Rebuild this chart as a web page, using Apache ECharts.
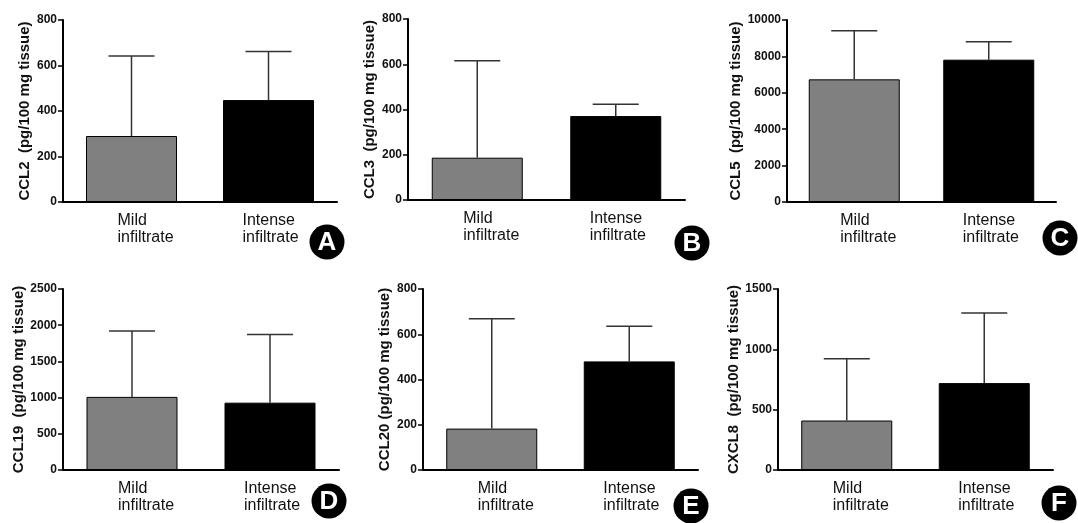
<!DOCTYPE html>
<html>
<head>
<meta charset="utf-8">
<script src="https://cdn.jsdelivr.net/npm/echarts@6/dist/echarts.min.js"></script>
<style>
  html, body { margin: 0; padding: 0; background: #fff; }
  #main { width: 1078px; height: 523px; }
</style>
</head>
<body>
<div id="main"></div>
<script>
// chemokine per panel, order A..F
var chemokines = ["CCL2", "CCL3", "CCL5", "CCL19", "CCL20", "CXCL8"];
var axisNames = [
  "CCL2  (pg/100 mg tissue)",
  "CCL3  (pg/100 mg tissue)",
  "CCL5  (pg/100 mg tissue)",
  "CCL19  (pg/100 mg tissue)",
  "CCL20 (pg/100 mg tissue)",
  "CXCL8  (pg/100 mg tissue)"
];
var panelLetters = ["A", "B", "C", "D", "E", "F"];
var categories = ["Mild infiltrate", "Intense infiltrate"];

var mildMean = [290, 187, 6740, 1010, 183, 410];
var intenseMean = [448, 371, 7820, 930, 480, 720];
var mildSD = [352, 429, 2670, 910, 485, 512];
var intenseSD = [213, 52, 990, 940, 155, 582];

var yMax = [800, 800, 10000, 2500, 800, 1500];
var yStep = [200, 200, 2000, 500, 200, 500];

// layout of each panel (pixels)
var grids = [
  { left: 63, top: 20, width: 274, height: 182 },
  { left: 408, top: 19, width: 277, height: 181 },
  { left: 787, top: 20, width: 269, height: 182 },
  { left: 63, top: 289, width: 276, height: 181 },
  { left: 423, top: 289, width: 275, height: 181 },
  { left: 778, top: 289, width: 275, height: 181 }
];
var letterPos = [[327, 242], [692, 243], [1060, 238], [329, 501], [691, 506], [1059, 503]];

var font = "Liberation Sans, Arial, sans-serif";

var myChart = echarts.init(document.getElementById("main"));

var xAxes = [], yAxes = [], series = [], graphics = [];

chemokines.forEach(function (name, i) {
  xAxes.push({
    type: "category",
    gridIndex: i,
    data: categories,
    axisLine: { lineStyle: { color: "#000", width: 2 } },
    axisTick: { alignWithLabel: true, length: 5, lineStyle: { color: "#000", width: 1.5 } },
    axisLabel: {
      margin: 10,
      fontFamily: font,
      fontSize: 16,
      color: "#111",
      lineHeight: 17,
      formatter: function (v) {
        var parts = v.split(" ");
        var key = parts[0] === "Mild" ? "m" : "n";
        return "{" + key + "|" + parts[0] + "}\n{" + key + "|" + parts[1] + "}";
      },
      rich: {
        m: { fontFamily: font, fontSize: 16, lineHeight: 17, color: "#111", width: 56, align: "left", padding: [0, 0, 0, 28] },
        n: { fontFamily: font, fontSize: 16, lineHeight: 17, color: "#111", width: 56, align: "left", padding: [0, 0, 0, 4] }
      }
    }
  });
  yAxes.push({
    type: "value",
    gridIndex: i,
    min: 0,
    max: yMax[i],
    interval: yStep[i],
    name: axisNames[i],
    nameLocation: "middle",
    nameGap: 31,
    nameTextStyle: { fontFamily: font, fontSize: 15, fontWeight: "bold", color: "#111" },
    splitLine: { show: false },
    axisLine: { show: true, lineStyle: { color: "#000", width: 2 } },
    axisTick: { show: true, length: 5, lineStyle: { color: "#000", width: 1.5 } },
    axisLabel: {
      margin: 6, fontFamily: font, fontSize: 12, fontWeight: "bold", color: "#111",
      formatter: function (v) { return String(v); }
    }
  });
  series.push({
    type: "bar",
    xAxisIndex: i,
    yAxisIndex: i,
    barWidth: 91,
    data: [
      { value: mildMean[i], itemStyle: { color: "#808080" } },
      { value: intenseMean[i], itemStyle: { color: "#000" } }
    ],
    itemStyle: { borderColor: "#000", borderWidth: 1 },
    silent: true
  });
  series.push({
    type: "custom",
    xAxisIndex: i,
    yAxisIndex: i,
    z: 5,
    data: [
      [0, mildMean[i], mildMean[i] + mildSD[i]],
      [1, intenseMean[i], intenseMean[i] + intenseSD[i]]
    ],
    renderItem: function (params, api) {
      var base = api.coord([api.value(0), api.value(1)]);
      var top = api.coord([api.value(0), api.value(2)]);
      var hw = 23;
      var style = { stroke: "#333", lineWidth: 1.5 };
      return {
        type: "group",
        children: [
          { type: "line", shape: { x1: top[0], y1: base[1], x2: top[0], y2: top[1] }, style: style },
          { type: "line", shape: { x1: top[0] - hw, y1: top[1], x2: top[0] + hw, y2: top[1] }, style: style }
        ]
      };
    }
  });
  graphics.push({
    type: "group",
    x: letterPos[i][0],
    y: letterPos[i][1],
    children: [
      { type: "circle", shape: { cx: 0, cy: 0, r: 17.5 }, style: { fill: "#000" } },
      {
        type: "text",
        style: {
          text: panelLetters[i], x: 0, y: 1, align: "center", verticalAlign: "middle",
          font: "bold 26px " + font, fill: "#fff", stroke: "#000", lineWidth: 1
        }
      }
    ]
  });
});

var option = {
  backgroundColor: "#fff",
  animation: false,
  grid: grids,
  xAxis: xAxes,
  yAxis: yAxes,
  series: series,
  graphic: graphics
};

option && myChart.setOption(option);
</script>
</body>
</html>
